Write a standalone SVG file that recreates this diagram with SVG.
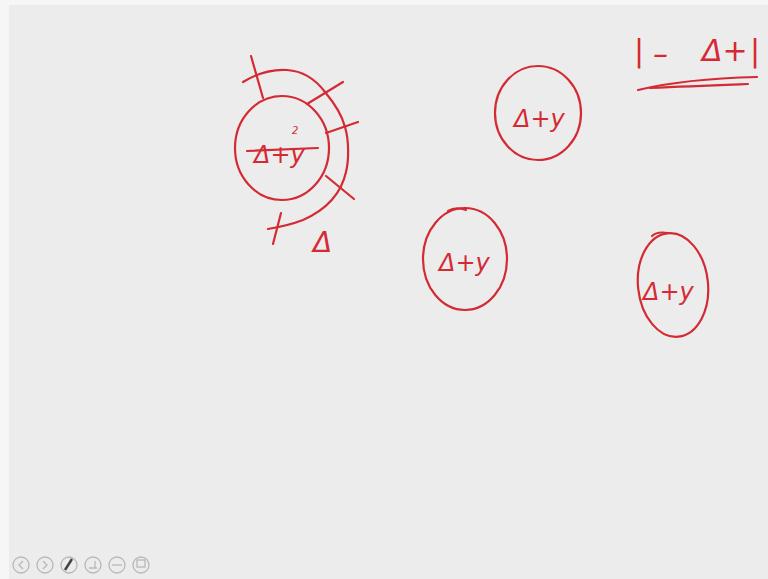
<svg xmlns="http://www.w3.org/2000/svg" width="768" height="579" viewBox="0 0 768 579">
<style>
.ink{fill:none;stroke:#d42a33;stroke-width:2.2;stroke-linecap:round;stroke-linejoin:round}
.t{fill:#d42a33;font-family:"DejaVu Sans","Liberation Sans",sans-serif;font-style:italic}
.ic{fill:none;stroke:#b8b8b8;stroke-width:1.3}
</style>
<rect width="768" height="579" fill="#f6f6f6"/>
<rect x="9" y="5" width="759" height="574" fill="#ececec"/>

<g id="node-main">
  <ellipse class="ink" cx="282" cy="148" rx="47" ry="52"/>
  <path class="ink" d="M243,82 C258,73 272,69 287,70 C303,71 316,80 325,92 C335,104 342,115 345,127 C349,140 349,160 346,172 C342,190 330,208 303,220 C290,225 280,227 268,229"/>
  <path class="ink" d="M251,56 L263,98"/>
  <path class="ink" d="M307,104 L343,82"/>
  <path class="ink" d="M326,133 L358,122"/>
  <path class="ink" d="M326,176 L354,199"/>
  <path class="ink" d="M281,213 L273,244"/>
  <text class="t" x="254" y="163" font-size="24">Δ+y</text>
  <text class="t" x="292" y="134" font-size="10">2</text>
  <path class="ink" d="M247,151 L318,148"/>
  <text class="t" x="313" y="252" font-size="28" font-style="normal">Δ</text>
</g>

<g id="node-top">
  <ellipse class="ink" cx="538" cy="113" rx="43" ry="47"/>
  <text class="t" x="514" y="127" font-size="24">Δ+y</text>
</g>

<g id="node-mid">
  <ellipse class="ink" cx="465" cy="259" rx="42" ry="51"/>
  <path class="ink" d="M448,211 C453,208 460,208 466,210"/>
  <text class="t" x="439" y="271" font-size="24">Δ+y</text>
</g>

<g id="node-right">
  <ellipse class="ink" cx="673" cy="285" rx="35" ry="52" transform="rotate(-6 673 285)"/>
  <path class="ink" d="M652,236 C656,232 662,232 668,233"/>
  <text class="t" x="643" y="300" font-size="24">Δ+y</text>
</g>

<g id="formula">
  <text class="t" y="61" font-size="30" font-style="normal"><tspan x="634">|</tspan><tspan x="653" y="64">–</tspan><tspan x="702" y="61">Δ+</tspan><tspan x="750">|</tspan></text>
  <path class="ink" stroke-width="3" d="M638,90 C675,81 715,78 757,77"/>
  <path class="ink" stroke-width="2.6" d="M650,88 C690,86 720,85 748,84"/>
</g>

<g id="toolbar">
  <circle class="ic" cx="21" cy="565" r="8"/>
  <path class="ic" d="M23,561 L19,565 L23,569"/>
  <circle class="ic" cx="45" cy="565" r="8"/>
  <path class="ic" d="M43,561 L47,565 L43,569"/>
  <circle class="ic" cx="69" cy="565" r="8" stroke="#888"/>
  <path d="M65,570 L72,559" stroke="#444" stroke-width="2.5"/>
  <circle class="ic" cx="93" cy="565" r="8"/>
  <path class="ic" d="M89,568 L97,568 M95,568 L95,561"/>
  <circle class="ic" cx="117" cy="565" r="8"/>
  <path class="ic" d="M112,565 L122,565"/>
  <circle class="ic" cx="141" cy="565" r="8"/>
  <rect class="ic" x="137" y="560" width="8" height="7"/>
</g>
</svg>
